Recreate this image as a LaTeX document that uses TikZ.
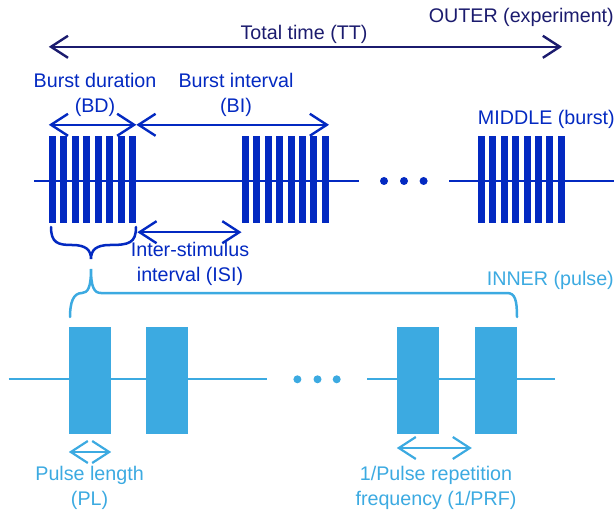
\documentclass[tikz,border=0pt]{standalone}
\usepackage{fontspec}
\setmainfont{Liberation Sans}
\usetikzlibrary{arrows.meta}

\definecolor{outerblue}{RGB}{27,27,110}
\definecolor{midblue}{RGB}{3,41,193}
\definecolor{innerblue}{RGB}{60,170,225}

\begin{document}
\begin{tikzpicture}[x=1pt, y=-1pt,
  every node/.style={font=\fontsize{19.7}{25}\selectfont},
  bar/.style={rectangle, fill=midblue, inner sep=0pt,
    minimum width=7pt, minimum height=87pt},
  pulse/.style={rectangle, fill=innerblue, inner sep=0pt,
    minimum width=42pt, minimum height=107pt},
  txt/.style={anchor=base, align=center, inner sep=0pt},
  dimarrow/.style={{Straight Barb[length=17pt,width=22pt]}-{Straight Barb[length=17pt,width=22pt]},
    line width=2.4pt},
  timeline/.style={line width=2.6pt},
  dotmark/.style={circle, inner sep=0pt, minimum size=8pt},
  brace/.style={line width=2.5pt, line cap=round}
]
  \useasboundingbox (0,0) rectangle (616,513);

  % middle level: bursts
  \coordinate (m1) at (34,181);
  \coordinate (m2) at (359,181);
  \coordinate (m3) at (449,181);
  \coordinate (m4) at (614,181);
  \draw[timeline, midblue] (m1) -- (m2);
  \draw[timeline, midblue] (m3) -- (m4);
  \foreach \x [count=\k] in {384,404,423.6}
    \node[dotmark, fill=midblue] (mdot\k) at (\x,181) {};

  \foreach \b/\x in {1/49,2/241.7,3/477.7}
    \foreach \i in {0,...,7}
      \node[bar] (bar\b-\i) at ({\x+3.5+11.45*\i},179.5) {};

  % inner level: pulses
  \coordinate (i1) at (8.6,379.3);
  \coordinate (i2) at (267,379.3);
  \coordinate (i3) at (367,379.3);
  \coordinate (i4) at (555,379.3);
  \draw[timeline, innerblue, line width=2.3pt] (i1) -- (i2);
  \draw[timeline, innerblue, line width=2.3pt] (i3) -- (i4);
  \foreach \x [count=\k] in {297.4,317.5,336.7}
    \node[dotmark, fill=innerblue] (idot\k) at (\x,379.3) {};

  \node[pulse] (p1) at (90,380.3) {};
  \node[pulse] (p2) at (167,380.3) {};
  \node[pulse] (p3) at (418,380.3) {};
  \node[pulse] (p4) at (496,380.3) {};

  % arrows
  \draw[dimarrow, outerblue] ([yshift=89pt]bar1-0.north west) -- ([yshift=89pt,xshift=-3pt]bar3-7.north east);
  \draw[dimarrow, midblue] ([yshift=11pt]bar1-0.north west) -- ([yshift=11pt]bar1-7.north east);
  \draw[dimarrow, midblue] ([yshift=11pt]bar1-7.north east) -- ([yshift=11pt]bar2-7.north east);
  \draw[dimarrow, midblue] ([yshift=-9pt,xshift=1pt]bar1-7.south east) -- ([yshift=-9pt]bar2-0.south west);
  \draw[dimarrow, innerblue, line width=2.2pt] ([yshift=-18pt]p1.south west) -- ([yshift=-18pt]p1.south east);
  \draw[dimarrow, innerblue, line width=2.2pt] ([yshift=-14pt]p3.south west) -- ([yshift=-14pt,xshift=-3pt]p4.south west);

  % braces
  \draw[brace, midblue] (51,227) .. controls (51,243) and (58,245) .. (72,245)
    .. controls (86,245) and (91,250) .. (91,259)
    .. controls (91,250) and (96,245) .. (110,245)
    .. controls (129,245) and (136,243) .. (136,227);
  \draw[brace, innerblue] (70,317) .. controls (70,303) and (73,293) .. (82,293)
    .. controls (88,293) and (91,287) .. (91,269)
    .. controls (91,287) and (94,293) .. (101,293)
    -- (507,293) .. controls (515,293) and (517,300) .. (517,317);

  % labels (base = last line)
  \node[txt, outerblue, anchor=base east] (outer) at (614,22.7) {OUTER (experiment)};
  \node[txt, outerblue] (tt) at (304,39.3) {Total time (TT)};
  \node[txt, midblue] (bd) at (95,112.5) {Burst duration\\(BD)};
  \node[txt, midblue] (bi) at (236,112.5) {Burst interval\\(BI)};
  \node[txt, midblue, anchor=base east] (middle) at (615,125) {MIDDLE (burst)};
  \node[txt, midblue] (isi) at (190,281.7) {Inter-stimulus\\interval (ISI)};
  \node[txt, innerblue, anchor=base east] (inner) at (614,285.7) {INNER (pulse)};
  \node[txt, innerblue] (pl) at (89.6,505) {Pulse length\\(PL)};
  \node[txt, innerblue] (prf) at (436,505) {1/Pulse repetition\\frequency (1/PRF)};
\end{tikzpicture}
\end{document}
